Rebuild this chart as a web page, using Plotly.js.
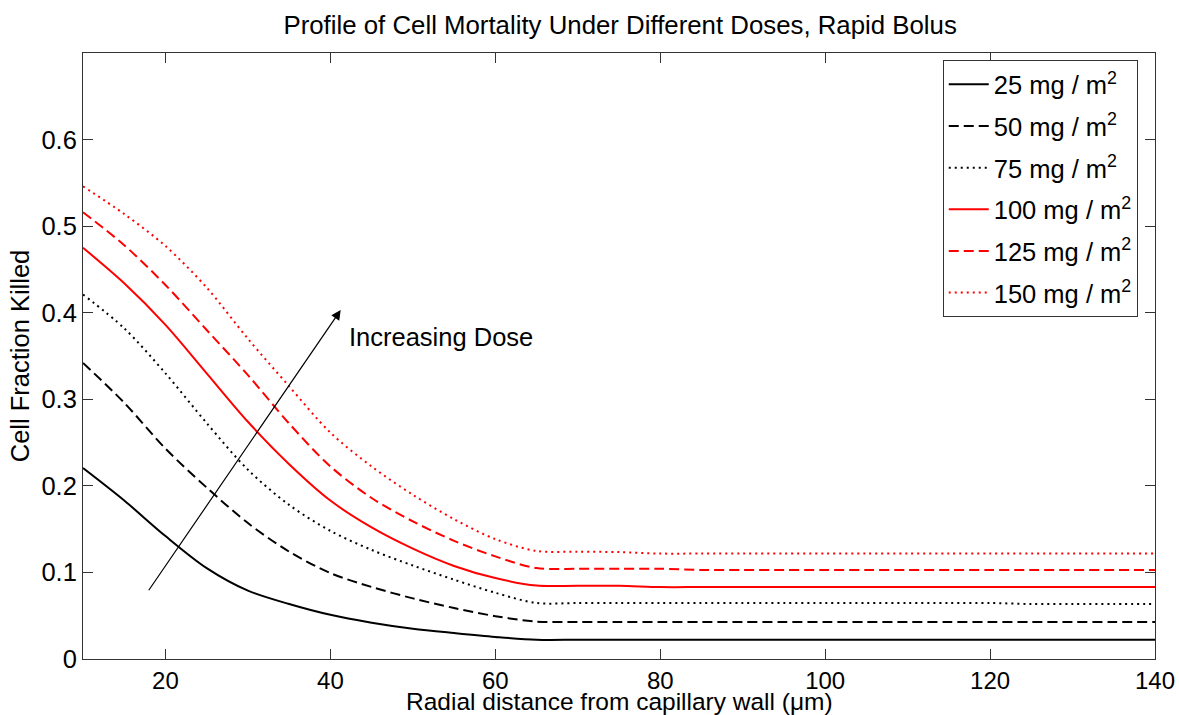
<!DOCTYPE html>
<html>
<head>
<meta charset="utf-8">
<script src="https://cdn.plot.ly/plotly-3.0.1.min.js"></script>
<style>html,body{margin:0;padding:0;background:#fff;}#chart{width:1179px;height:715px;}</style>
</head>
<body>
<div id="chart"></div>
<script>
const xVals = [10,15,20,25,30,35,40,45,50,55,60,65,70,75,80,85,90,95,100,105,110,115,120,125,130,135,140];
const d25  = [0.2205,0.183,0.142,0.105,0.079,0.0635,0.051,0.042,0.035,0.030,0.0255,0.0222,0.0222,0.0222,0.0222,0.0222,0.0222,0.0222,0.0222,0.0222,0.0222,0.0222,0.0222,0.0222,0.0222,0.0222,0.0222];
const d50  = [0.342,0.296,0.243,0.198,0.157,0.124,0.0993,0.0832,0.0700,0.0589,0.0495,0.0432,0.0428,0.0428,0.0428,0.0428,0.0428,0.0428,0.0428,0.0428,0.0428,0.0428,0.0428,0.0428,0.0428,0.0428,0.0428];
const d75  = [0.421,0.382,0.330,0.2725,0.2186,0.178,0.148,0.126,0.108,0.0916,0.0765,0.0647,0.0647,0.0647,0.0647,0.0647,0.0647,0.0647,0.0647,0.0647,0.0647,0.0647,0.0647,0.0635,0.0635,0.0635,0.0635];
const d100 = [0.475,0.434,0.386,0.330,0.274,0.225,0.183,0.152,0.1275,0.1075,0.0935,0.0848,0.0846,0.0846,0.0831,0.0831,0.0831,0.0831,0.0831,0.0831,0.0831,0.0831,0.0831,0.0831,0.0831,0.0831,0.0831];
const d125 = [0.516,0.478,0.432,0.380,0.328,0.272,0.2225,0.1860,0.159,0.1365,0.1185,0.1050,0.1043,0.1043,0.1043,0.1028,0.1028,0.1028,0.1028,0.1028,0.1028,0.1028,0.1028,0.1028,0.1028,0.1028,0.1028];
const d150 = [0.546,0.514,0.477,0.429,0.370,0.315,0.2615,0.2224,0.1897,0.1615,0.1385,0.1248,0.124,0.1235,0.1218,0.1218,0.1218,0.1218,0.1218,0.1218,0.1218,0.1218,0.1218,0.1218,0.1218,0.1218,0.1218];
const seriesNames = ['25 mg / m<sup>2</sup>','50 mg / m<sup>2</sup>','75 mg / m<sup>2</sup>','100 mg / m<sup>2</sup>','125 mg / m<sup>2</sup>','150 mg / m<sup>2</sup>'];
const xTicks = [20,40,60,80,100,120,140];
const yTicks = [0,0.1,0.2,0.3,0.4,0.5,0.6];

const seriesData = [d25,d50,d75,d100,d125,d150];
const colors = ['#000000','#000000','#000000','#ff0000','#ff0000','#ff0000'];
const dashes = ['solid','10px,5px','2px,4px','solid','10px,5px','2px,4px'];

const traces = seriesData.map((d,i)=>({
  x: xVals, y: d, type:'scatter', mode:'lines', name: seriesNames[i],
  legendgroup: 'g'+i,
  line:{color:colors[i], width:2, dash:dashes[i], shape:'spline', smoothing:0.9}
}));

const fontFam = '"Liberation Sans", Arial, sans-serif';
const layout = {
  width:1179, height:715,
  margin:{l:83, r:24, t:53, b:56},
  paper_bgcolor:'#fff', plot_bgcolor:'#fff',
  font:{family:fontFam, size:25.5, color:'#000'},
  title:{text:'Profile of Cell Mortality Under Different Doses, Rapid Bolus', x:0.526, xanchor:'center', y:0.965, yanchor:'middle', font:{size:25.8}},
  xaxis:{range:[10,140], tickvals:xTicks, ticks:'inside', ticklen:10, tickcolor:'#333', showline:true, linecolor:'#333', linewidth:1, mirror:'ticks', showgrid:false, zeroline:false,
    tickfont:{size:24}},
  yaxis:{range:[0,0.7], tickvals:yTicks, ticks:'inside', ticklen:10, tickcolor:'#333', showline:true, linecolor:'#333', linewidth:1, mirror:'ticks', showgrid:false, zeroline:false,
    tickfont:{size:25.5},
    title:{text:'Cell Fraction Killed', standoff:4, font:{size:25.5}}},
  legend:{x:0.802, y:0.988, xanchor:'left', yanchor:'top', bgcolor:'#fff', bordercolor:'#333', borderwidth:1,
    font:{size:25.5}, tracegroupgap:5.5, traceorder:'grouped', itemwidth:40},
  annotations:[
    {x:41.25, y:0.403, ax:17.85, ay:0.0777, xref:'x', yref:'y', axref:'x', ayref:'y', text:'', showarrow:true, arrowhead:2, arrowsize:1.6, arrowwidth:1.2, arrowcolor:'#000'},
    {x:41.97, y:0.372, xref:'x', yref:'y', text:'Increasing Dose', showarrow:false, xanchor:'left', yanchor:'middle', font:{size:25.5}},
    {x:0.5, y:-0.0935, xref:'paper', yref:'paper', text:'Radial distance from capillary wall (\u03bcm)', showarrow:false, xanchor:'center', yanchor:'bottom', borderpad:0, font:{size:24.5}}
  ]
};
Plotly.newPlot('chart', traces, layout, {displayModeBar:false});
</script>
</body>
</html>
